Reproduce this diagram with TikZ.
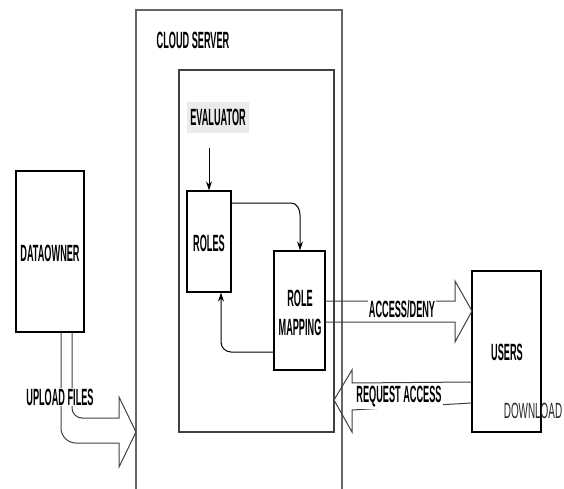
\documentclass[tikz,border=0pt]{standalone}
\usepackage{fontspec}
\setmainfont{Liberation Sans}
\newfontfamily\narfont{Liberation Sans}[FakeStretch=0.39]
\newfontfamily\thinfont{Liberation Sans}[FakeStretch=0.45]
\usetikzlibrary{arrows.meta}
\begin{document}
\begin{tikzpicture}[x=1pt,y=-1pt,
  box/.style={draw=black,line width=1.2pt,inner sep=0pt},
  lbl/.style={font=\narfont\bfseries\fontsize{23.5}{25}\selectfont,inner sep=0pt,align=center},
  wlbl/.style={lbl,fill=white,inner sep=1pt},
  outer/.style={draw=black!60,line width=1.3pt},
  hol/.style={draw=black!75,line width=1pt,line join=miter},
  flow/.style={draw=black,line width=1pt,-{Stealth[length=9pt,width=6pt]}}]
\useasboundingbox (0,0) rectangle (564,489);
% cloud server
\draw[outer] (136,489) -- (136,10) -- (342,10) -- (342,489);
\node[lbl,anchor=center] (cs) at (193,40) {CLOUD SERVER};
% inner box
\draw[box,draw=black!75] (179,70) rectangle (334,432);
% evaluator
\fill[black!8] (187,102) rectangle (249,133);
\node[lbl] (ev) at (218,117) {EVALUATOR};
\coordinate (evs) at (209,148);
% roles
\node[box,minimum width=44pt,minimum height=101pt] (roles) at (209,241.5) {};
\node[lbl] (rolest) at (209,243) {ROLES};
% role mapping
\node[box,minimum width=51pt,minimum height=119pt] (rm) at (299.5,310.5) {};
\node[lbl] (rmt) at (300,313) {ROLE\\[4pt]MAPPING};
% dataowner
\node[box,minimum width=68pt,minimum height=161pt] (do) at (50,251.5) {};
\node[lbl] (dot) at (50,253) {DATAOWNER};
% users
\node[box,minimum width=69pt,minimum height=161pt] (us) at (506.5,351.5) {};
\node[lbl] (ust) at (507,352) {USERS};
% flow arrows
\draw[flow] (evs) -- (roles.north -| evs);
\draw[flow] (roles.east |- 0,203) -- (291,203) to[out=0,in=90] (300,215) -- (rm.north -| 300,0);
\draw[flow] (rm.west |- 0,352) -- (231,352) to[out=180,in=270] (221,342) -- (roles.south -| 221,0);
% access/deny hollow arrow
\draw[hol] (rm.east |- 0,301) -- (455,301) -- (455,281) -- (472,311) -- (455,342) -- (455,322) -- (rm.east |- 0,322);
\node[wlbl] (ad) at (402,309) {ACCESS/DENY};
% request access hollow arrow
\draw[hol] (us.west |- 0,382) -- (352,383) -- (352,370) -- (334,400) -- (352,432) -- (352,410) -- (us.west |- 0,403);
\node[wlbl] (ra) at (399,397) {REQUEST ACCESS};
% upload files hollow arrow
\draw[hol] (do.south -| 72,0) -- (72,408) to[out=270,in=180] (82,418) -- (119,418) -- (119,397) -- (136,432) -- (119,467) -- (119,443) -- (76,443) to[out=180,in=270] (61,428) -- (do.south -| 61,0);
\node[wlbl] (uf) at (60,397) {UPLOAD FILES};
% download
\node[font=\thinfont\fontsize{22}{24}\selectfont,text=black!85,inner sep=0pt] (dl) at (533,411) {DOWNLOAD};
\end{tikzpicture}
\end{document}
